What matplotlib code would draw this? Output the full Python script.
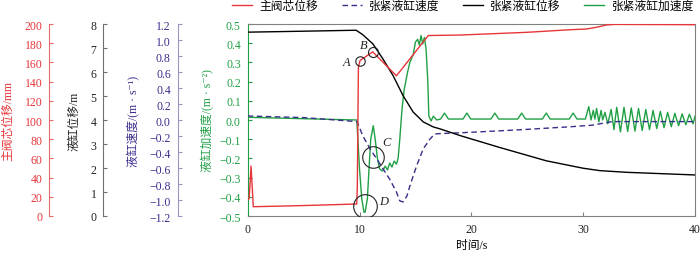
# -*- coding: utf-8 -*-

import matplotlib
matplotlib.use('Agg')
import matplotlib.pyplot as plt

# ----------数据----------
# 主阀芯位移 (mm)
valve_t = [0, 0.13, 0.3, 0.5, 3, 6, 9.75, 9.8, 9.9, 10.05, 11.18, 13.3, 16.15,
           19, 24.9, 28.8, 30.3, 31.2, 32.1, 32.8, 40]
valve_mm = [17, 18, 52, 9.7, 10.3, 11.2, 12.5, 30, 155, 162, 171, 146, 188,
            188.5, 191.3, 194, 194.8, 196.6, 199, 199.6, 199.3]

# 张紧液缸位移 (m)
disp_t = [0, 5, 9.7, 10.3, 11.2, 12.1, 13.0, 13.9, 14.8, 15.7, 16.6, 17.2,
          19, 22.5, 26.7, 30, 31.5, 33.9, 40]
disp_m = [7.66, 7.7, 7.74, 7.55, 7.17, 6.54, 5.85, 5.01, 4.33, 3.92, 3.71,
          3.63, 3.35, 2.86, 2.3, 1.99, 1.89, 1.82, 1.71]

# 张紧液缸速度 (m/s)
vel_t = [0, 5, 9.78, 10.3, 10.94, 11.56, 12.1, 12.7, 13.3, 13.6, 13.9, 14.24,
         14.5, 15.1, 15.7, 16.3, 16.7, 17.2, 19, 24, 28.8, 30.8, 32.6, 40]
vel = [0.05, 0.03, -0.02, -0.2, -0.36, -0.49, -0.61, -0.74, -0.9, -1.01,
       -1.025, -0.95, -0.825, -0.575, -0.36, -0.24, -0.175, -0.17, -0.16,
       -0.125, -0.085, -0.065, -0.02, -0.02]

# 张紧液缸加速度 (m/s^2)
acc_t = [0, 9.75, 9.8, 10.0, 10.2, 10.4, 10.5, 10.7, 10.85, 11.0, 11.23, 11.4,
         11.6, 11.8, 12.05, 12.3, 12.5, 12.7, 12.9, 13.1, 13.3, 13.45, 13.6,
         13.8, 14.0, 14.3, 14.5, 14.8, 15.0, 15.2, 15.35, 15.5, 15.65, 15.8,
         15.95, 16.1, 16.2, 16.4, 16.6, 16.9, 17.25, 17.6, 17.95,
         19.25, 19.6, 19.95, 21.75, 22.1, 22.45, 24.15, 24.5, 24.85,
         26.35, 26.7, 27.05, 28.75, 29.1, 29.45, 30.2,
         30.5, 30.7, 30.9, 31.05, 31.2, 31.4, 31.6, 31.75, 31.95, 32.2, 32.5,
         32.75, 33.0, 33.33, 33.65, 33.98, 34.3, 34.63, 34.95, 35.28, 35.6,
         35.93, 36.25, 36.58, 36.9, 37.23, 37.55, 37.88, 38.2, 38.53, 38.85,
         39.18, 39.5, 39.83, 40]
acc = [0.014, 0.0, -0.047, -0.255, -0.41, -0.48, -0.48, -0.41, -0.255, -0.1,
       -0.03, -0.1, -0.2, -0.255, -0.266, -0.24, -0.26, -0.224, -0.245, -0.214,
       -0.23, -0.2, -0.1, 0.057, 0.16, 0.25, 0.30, 0.34, 0.406, 0.42, 0.39,
       0.44, 0.396, 0.43, 0.37, 0.21, 0.02, -0.005, 0.02, 0.0, 0.005, 0.036,
       0.005, 0.005, 0.036, 0.005, 0.005, 0.036, 0.005, 0.005, 0.036, 0.005,
       0.005, 0.036, 0.005, 0.005, 0.036, 0.005, 0.005,
       0.07, 0.0, 0.05, 0.005, 0.06, -0.01, 0.05, 0.0, 0.04, -0.02, 0.055,
       -0.05, 0.066, -0.062, 0.066, -0.06, 0.063, -0.058, 0.06, -0.055, 0.055,
       -0.05, 0.05, -0.045, 0.045, -0.04, 0.04, -0.035, 0.035, -0.03, 0.032,
       -0.025, 0.03, -0.02, 0.02]

# 标注点 A B C D (时间, 加速度坐标)
mark_names = ['A', 'B', 'C', 'D']
mark_t = [10.05, 11.18, 11.23, 10.5]
mark_y = [0.305, 0.356, -0.194, -0.446]
mark_size = [6.8, 7.2, 15.5, 17]
label_t = [8.8, 10.34, 12.45, 12.15]
label_y = [0.30, 0.39, -0.116, -0.42]

# ----------绘图----------
plt.rcParams['font.family'] = ['Liberation Serif', 'Noto Sans CJK SC', 'DejaVu Sans']
plt.rcParams['font.size'] = 8.5

c_red = '#e8353a'
c_blue = '#3b2d8c'
c_green = '#20a045'
c_gray = '#808080'

fig = plt.figure(figsize=(7, 2.55), dpi=100)
ax = fig.add_axes([247.7 / 700, 38 / 255, 447.3 / 700, 192 / 255])

# 主坐标轴: 加速度
ln_acc, = ax.plot(acc_t, acc, color=c_green, lw=1.0)
ax.set_xlim(0, 40)
ax.set_ylim(-0.5, 0.5)
ax.set_yticks([-0.5, -0.4, -0.3, -0.2, -0.1, 0.0, 0.1, 0.2, 0.3, 0.4, 0.5])
ax.set_xticks([0, 10, 20, 30, 40])
ax.tick_params(axis='x', direction='in', length=3, colors=c_gray,
               labelcolor='#222222', pad=5)
ax.tick_params(axis='y', direction='in', length=3, colors=c_green,
               labelcolor=c_green, pad=5)
for s in ['top', 'right', 'bottom']:
    ax.spines[s].set_color(c_gray)
ax.spines['left'].set_color(c_green)
ax.set_xlabel('时间/s', labelpad=3)
ax.set_ylabel('液缸加速度/(m · s⁻²)', color=c_green)
ax.yaxis.set_label_coords((213 - 247.7) / 447.3, 0.5)


def extra_axis(pos_px, lab_px, color, spine_color):
    a = ax.twinx()
    a.yaxis.set_label_position('left')
    a.yaxis.set_ticks_position('left')
    for s in ['top', 'right', 'bottom']:
        a.spines[s].set_visible(False)
    a.spines['left'].set_visible(True)
    a.spines['left'].set_position(('axes', (pos_px - 247.7) / 447.3))
    a.spines['left'].set_color(spine_color)
    a.tick_params(axis='y', direction='in', length=3, colors=spine_color,
                  labelcolor=color, pad=5)
    a.yaxis.set_label_coords((lab_px - 247.7) / 447.3, 0.5)
    return a


# 液缸速度
ax_v = extra_axis(177.7, 139, c_blue, '#9d94c6')
ln_vel, = ax_v.plot(vel_t, vel, color=c_blue, lw=1.0, dashes=(4, 2.5))
ax_v.set_ylim(-1.2, 1.2)
ax_v.set_yticks([-1.2, -1.0, -0.8, -0.6, -0.4, -0.2, 0.0, 0.2, 0.4, 0.6, 0.8, 1.0, 1.2])
ax_v.set_ylabel('液缸速度/(m · s⁻¹)', color=c_blue)

# 液缸位移
ax_d = extra_axis(103.3, 80, '#222222', '#707070')
ln_disp, = ax_d.plot(disp_t, disp_m, color='black', lw=1.0)
ax_d.set_ylim(0, 8)
ax_d.set_yticks(range(0, 9))
ax_d.set_ylabel('液缸位移/m', color='#222222')

# 主阀芯位移
ax_r = extra_axis(49.3, 14, c_red, '#ea6a6a')
ln_valve, = ax_r.plot(valve_t, valve_mm, color=c_red, lw=1.0)
ax_r.set_ylim(0, 200)
ax_r.set_yticks(range(0, 201, 20))
ax_r.set_ylabel('主阀芯位移/mm', color=c_red)

# 标注 A B C D
for name, x, y, ms, lx, ly in zip(mark_names, mark_t, mark_y, mark_size, label_t, label_y):
    ax_r.plot([x], [y * 200 + 100], marker='o', ms=ms, mfc='none', mec='#222222', mew=0.8)
    ax_r.text(lx, ly * 200 + 100, name, style='italic', fontsize=9,
              ha='center', va='center', color='#222222')

# 图例
fig.legend([ln_valve, ln_vel, ln_disp, ln_acc],
           ['主阀芯位移', '张紧液缸速度', '张紧液缸位移', '张紧液缸加速度'],
           loc='center', bbox_to_anchor=(463 / 700, 1 - 7 / 255), ncol=4,
           frameon=False, handlelength=1.7, handletextpad=0.6,
           columnspacing=2.0, borderaxespad=0, borderpad=0, fontsize=8.5)

plt.savefig('out.png', dpi=100)
